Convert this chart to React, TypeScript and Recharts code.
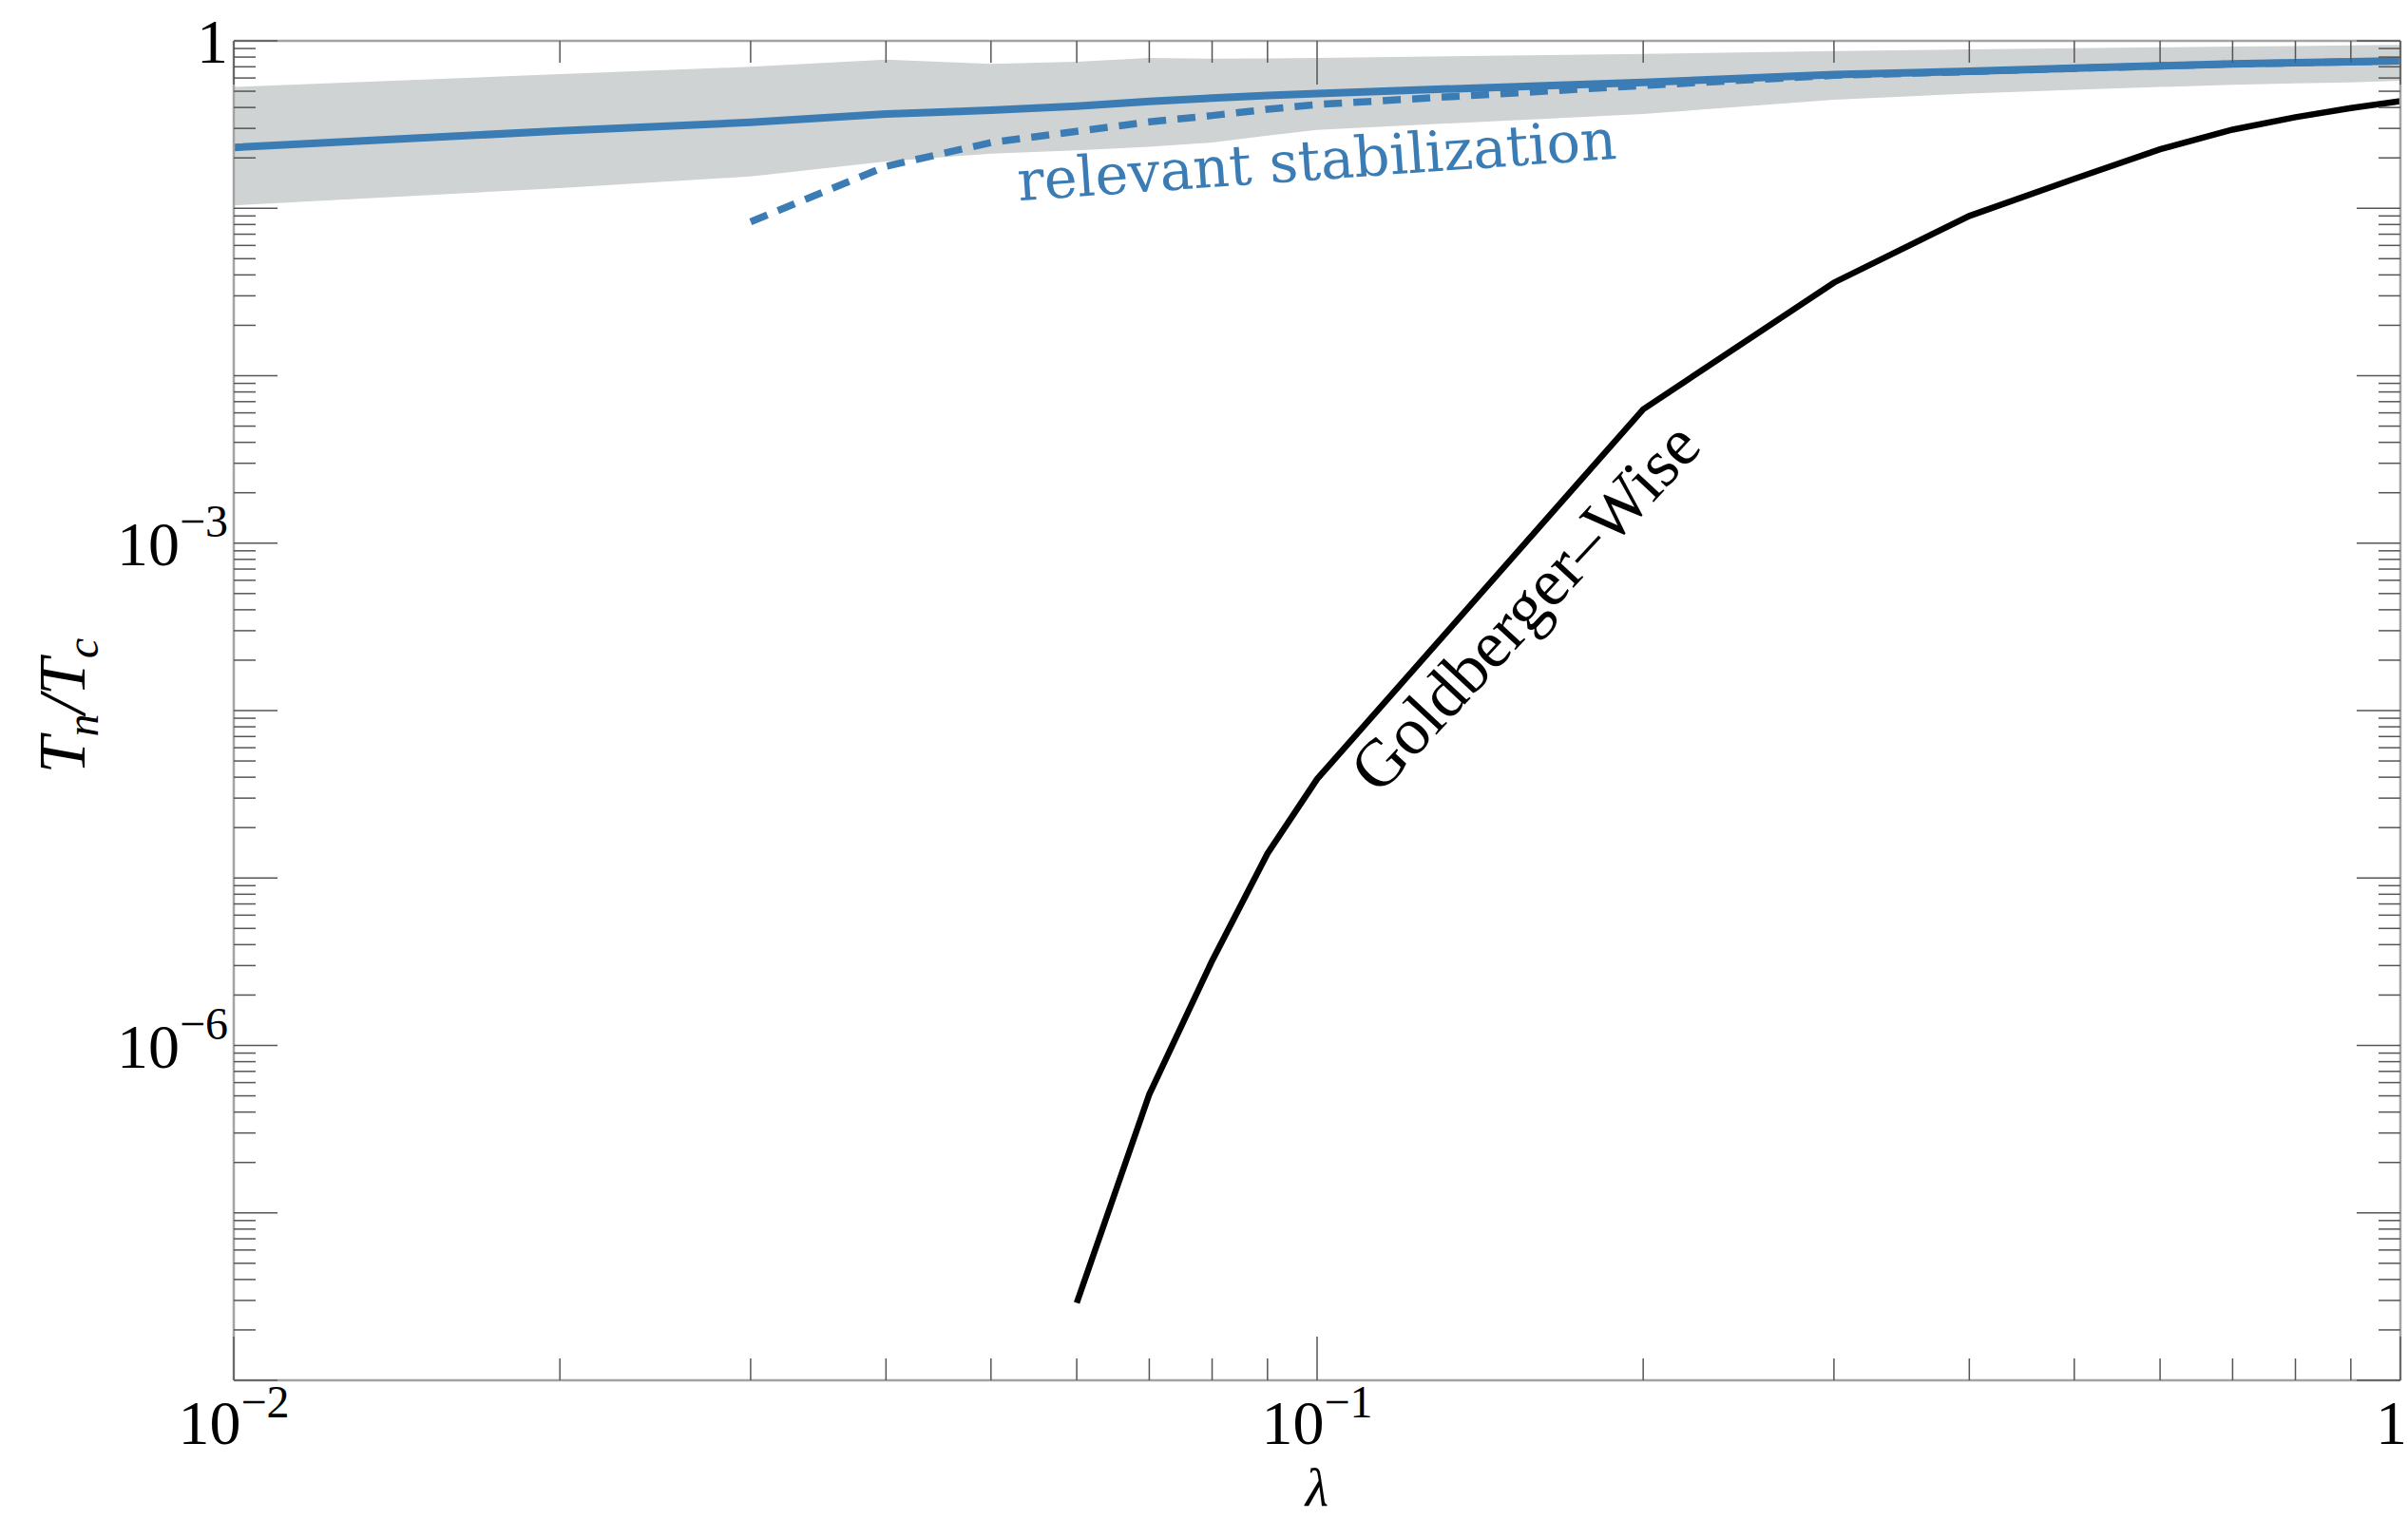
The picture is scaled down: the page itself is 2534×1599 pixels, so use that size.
import { ComposedChart, Area, Line, XAxis, YAxis } from "recharts";

// lambda samples
const lambda = [0.01, 0.02, 0.03, 0.04, 0.05, 0.06, 0.07, 0.08, 0.09, 0.1, 0.2, 0.3, 0.4, 0.5, 0.6, 0.7, 0.8, 0.9, 1.0];

// T_n / T_c, central curve and the grey spread around it
const tnMean = [0.231, 0.29, 0.326, 0.366, 0.385, 0.407, 0.435, 0.455, 0.472, 0.485, 0.565, 0.628, 0.658, 0.687, 0.709, 0.728, 0.74, 0.75, 0.76];
const bandLow = [0.104, 0.132, 0.155, 0.19, 0.212, 0.222, 0.233, 0.247, 0.272, 0.294, 0.366, 0.445, 0.485, 0.511, 0.53, 0.546, 0.558, 0.565, 0.578];
const bandHigh = [0.53, 0.632, 0.7, 0.773, 0.728, 0.75, 0.79, 0.783, 0.786, 0.79, 0.836, 0.87, 0.89, 0.904, 0.915, 0.924, 0.932, 0.939, 0.945];

// relevant stabilization (dashed)
const tnRelevant = [null, null, 0.083, 0.178, 0.247, 0.288, 0.328, 0.358, 0.39, 0.417, 0.541, 0.622, 0.655, 0.685, 0.708, 0.727, 0.739, 0.749, 0.759];

// Goldberger-Wise
const tnGW = [null, null, null, null, null, 2.9e-8, 5.1e-7, 3.2e-6, 1.4e-5, 3.9e-5, 6.3e-3, 0.036, 0.09, 0.15, 0.225, 0.295, 0.35, 0.397, 0.437];

// ticks
const mantissas = [1, 2, 3, 4, 5, 6, 7, 8, 9];
const xDecades = [-2, -1];
const yDecades = [-8, -7, -6, -5, -4, -3, -2, -1];
const xLabelValues = [0.01, 0.1, 1];
const xLabelBase = ["10", "10", "1"];
const xLabelExp = ["−2", "−1", ""];
const yLabelValues = [1, 1e-3, 1e-6];
const yLabelBase = ["1", "10", "10"];
const yLabelExp = ["", "−3", "−6"];

const xTicks = [...xDecades.flatMap((d) => mantissas.map((m) => m * Math.pow(10, d))), 1];
const yTicks = [...yDecades.flatMap((d) => mantissas.map((m) => m * Math.pow(10, d))), 1];

const data = lambda.map((l, i) => ({
  lam: l,
  mean: tnMean[i],
  band: [bandLow[i], bandHigh[i]],
  relevant: tnRelevant[i],
  gw: tnGW[i],
}));

const BLUE = "#3b7cb4";
const BAND = "#cfd3d4";
const FRAME = "#a3a3a3";
const TICK = "#555";
const SERIF = "'Liberation Serif', 'DejaVu Serif', serif";

const isDecade = (v: number) => Math.abs(Math.log10(v) - Math.round(Math.log10(v))) < 1e-6;
const findLabel = (vals: number[], v: number) => vals.findIndex((t) => Math.abs(t - v) / t < 1e-6);

function BottomTick({ x, y, payload }: any) {
  const v = payload.value;
  const len = isDecade(v) ? 46 : 23;
  const i = findLabel(xLabelValues, v);
  // the last label sits on the right edge, keep it inside the picture
  const last = i === xLabelValues.length - 1;
  return (
    <g>
      <line x1={x} x2={x} y1={y} y2={y - len} stroke={TICK} strokeWidth={1.5} />
      {i >= 0 && (
        <text
          x={last ? x + 7 : x}
          y={y + 67}
          textAnchor={last ? "end" : "middle"}
          fontFamily={SERIF}
          fontSize={66}
          fill="#000"
        >
          {xLabelBase[i]}
          {xLabelExp[i] && (
            <tspan dy={-28} fontSize={48}>
              {xLabelExp[i]}
            </tspan>
          )}
        </text>
      )}
    </g>
  );
}

function TopTick({ x, y, payload }: any) {
  const len = isDecade(payload.value) ? 46 : 23;
  return <line x1={x} x2={x} y1={y} y2={y + len} stroke={TICK} strokeWidth={1.5} />;
}

function LeftTick({ x, y, payload }: any) {
  const v = payload.value;
  const len = isDecade(v) ? 46 : 23;
  const i = findLabel(yLabelValues, v);
  return (
    <g>
      <line x1={x} x2={x + len} y1={y} y2={y} stroke={TICK} strokeWidth={1.5} />
      {i >= 0 && (
        <text x={x - 6} y={y + 23} textAnchor="end" fontFamily={SERIF} fontSize={66} fill="#000">
          {yLabelBase[i]}
          {yLabelExp[i] && (
            <tspan dy={-30} fontSize={48}>
              {yLabelExp[i]}
            </tspan>
          )}
        </text>
      )}
    </g>
  );
}

function RightTick({ x, y, payload }: any) {
  const len = isDecade(payload.value) ? 46 : 23;
  return <line x1={x} x2={x - len} y1={y} y2={y} stroke={TICK} strokeWidth={1.5} />;
}

export default function App() {
  return (
    <div style={{ position: "fixed", left: 0, top: 0, width: 2534, height: 1599, overflow: "hidden", background: "#fff" }}>
      <ComposedChart width={2534} height={1599} data={data} margin={{ top: 0, right: 0, bottom: 0, left: 0 }}>
        <XAxis
          dataKey="lam"
          type="number"
          scale="log"
          domain={[0.01, 1]}
          allowDataOverflow
          ticks={xTicks}
          interval={0}
          height={146}
          tickSize={0}
          tickMargin={0}
          tickLine={false}
          axisLine={{ stroke: FRAME, strokeWidth: 2.5 }}
          tick={(p: any) => <BottomTick {...p} />}
        />
        <XAxis
          xAxisId="top"
          orientation="top"
          dataKey="lam"
          type="number"
          scale="log"
          domain={[0.01, 1]}
          allowDataOverflow
          ticks={xTicks}
          interval={0}
          height={43}
          tickSize={0}
          tickMargin={0}
          tickLine={false}
          axisLine={{ stroke: FRAME, strokeWidth: 2.5 }}
          tick={(p: any) => <TopTick {...p} />}
        />
        <YAxis
          type="number"
          scale="log"
          domain={[1e-8, 1]}
          allowDataOverflow
          ticks={yTicks}
          interval={0}
          width={246}
          tickSize={0}
          tickMargin={0}
          tickLine={false}
          axisLine={{ stroke: FRAME, strokeWidth: 2.5 }}
          tick={(p: any) => <LeftTick {...p} />}
        />
        <YAxis
          yAxisId="right"
          orientation="right"
          type="number"
          scale="log"
          domain={[1e-8, 1]}
          allowDataOverflow
          ticks={yTicks}
          interval={0}
          width={8}
          tickSize={0}
          tickMargin={0}
          tickLine={false}
          axisLine={{ stroke: FRAME, strokeWidth: 2.5 }}
          tick={(p: any) => <RightTick {...p} />}
        />
        <Area dataKey="band" type="linear" stroke="none" fill={BAND} fillOpacity={1} isAnimationActive={false} />
        <Line dataKey="mean" type="linear" stroke={BLUE} strokeWidth={8} dot={false} isAnimationActive={false} />
        <Line
          dataKey="relevant"
          type="linear"
          stroke={BLUE}
          strokeWidth={7.5}
          strokeDasharray="19 12"
          dot={false}
          isAnimationActive={false}
        />
        <Line dataKey="gw" type="linear" stroke="#000" strokeWidth={6.5} dot={false} isAnimationActive={false} />
        <text
          x={1387}
          y={189}
          transform="rotate(-4.04 1387 189)"
          textAnchor="middle"
          fontFamily="'DejaVu Serif', serif"
          fontSize={59}
          fill={BLUE}
        >
          relevant stabilization
        </text>
        <text
          x={1622}
          y={655}
          transform="rotate(-47 1622 655)"
          textAnchor="middle"
          fontFamily={SERIF}
          fontSize={71}
          fill="#000"
        >
          Goldberger–Wise
        </text>
        <text x={1386} y={1585} textAnchor="middle" fontFamily={SERIF} fontStyle="italic" fontSize={56} fill="#000">
          λ
        </text>
        <text
          x={89}
          y={743}
          transform="rotate(-90 89 743)"
          textAnchor="middle"
          fontFamily={SERIF}
          fontStyle="italic"
          fontSize={70}
          fill="#000"
        >
          T
          <tspan dy={14} fontSize={48}>
            n
          </tspan>
          <tspan dy={-14}>/T</tspan>
          <tspan dy={14} fontSize={48}>
            c
          </tspan>
        </text>
      </ComposedChart>
    </div>
  );
}
